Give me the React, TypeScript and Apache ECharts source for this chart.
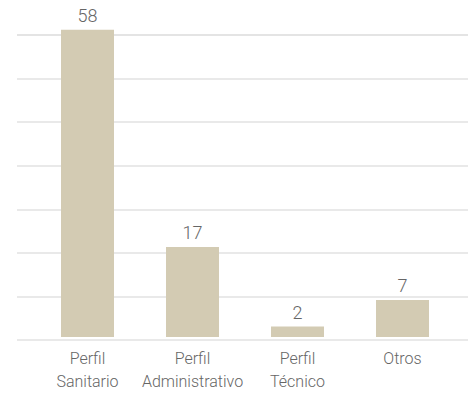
import React, { useEffect, useRef } from "react";
import * as echarts from "echarts";

const categories = ["Perfil\nSanitario", "Perfil\nAdministrativo", "Perfil\nTécnico", "Otros"];
const values = [58, 17, 2, 7];
const yMin = 0;
const yMax = 57;
const yInterval = 57 / 7;

export default function App() {
  const ref = useRef<HTMLDivElement>(null);
  useEffect(() => {
    if (!ref.current) return;
    const chart = echarts.init(ref.current, null, { renderer: "svg" });
    const font = "Roboto";
    chart.setOption({
      animation: false,
      grid: [
        { left: 17, right: 0, top: 35, bottom: 53 },
        { left: 35, right: 13, top: 35, bottom: 53 },
      ],
      xAxis: [
        { type: "category", gridIndex: 0, data: categories, show: false },
        {
          type: "category",
          gridIndex: 1,
          data: categories,
          axisLine: { show: false },
          axisTick: { show: false },
          axisLabel: {
            color: "#666",
            fontFamily: font,
            fontWeight: 300,
            fontSize: 16,
            lineHeight: 23,
            margin: 10,
            interval: 0,
          },
        },
      ],
      yAxis: [
        {
          type: "value",
          gridIndex: 0,
          min: yMin,
          max: yMax,
          interval: yInterval,
          axisLabel: { show: false },
          axisLine: { show: false },
          axisTick: { show: false },
          splitLine: { lineStyle: { color: "#e2e2e2", width: 1.5 } },
        },
        {
          type: "value",
          gridIndex: 1,
          min: yMin,
          max: yMax,
          interval: yInterval,
          show: false,
          splitLine: { show: false },
        },
      ],
      series: [
        {
          type: "bar",
          xAxisIndex: 1,
          yAxisIndex: 1,
          data: values,
          barWidth: 53,
          clip: false,
          itemStyle: { color: "#d3cbb3" },
          label: {
            show: true,
            position: "top",
            distance: 5,
            color: "#666",
            fontFamily: font,
            fontWeight: 300,
            fontSize: 18,
          },
        },
      ],
    });
    return () => chart.dispose();
  }, []);
  return (
    <div
      ref={ref}
      style={{ position: "fixed", left: 0, top: 0, width: 468, height: 393, background: "#fff" }}
    />
  );
}
